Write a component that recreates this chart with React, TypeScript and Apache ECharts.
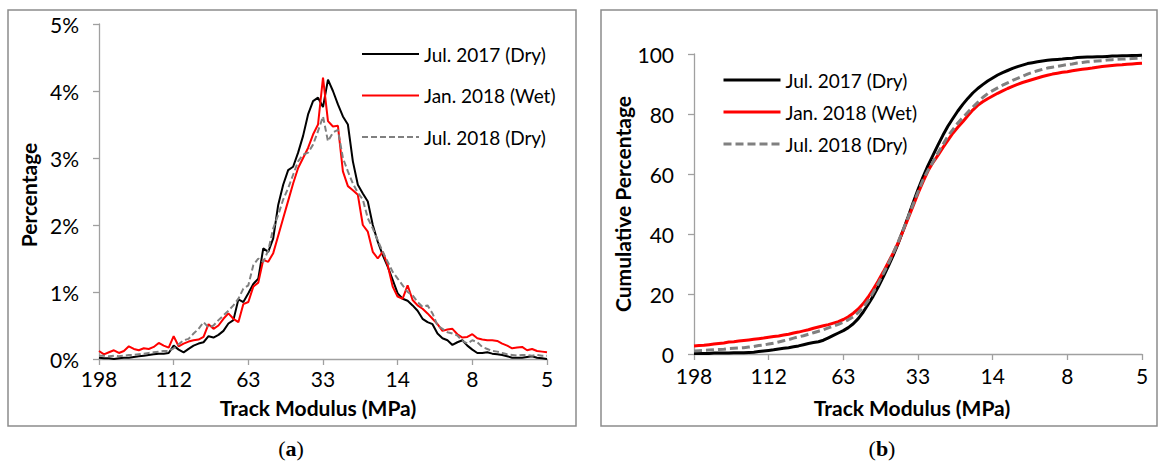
import React, { useEffect, useRef } from "react";
import * as echarts from "echarts";

// ---------- data ----------
const TICK_LABELS = ["198", "112", "63", "33", "14", "8", "5"];
const STEP = 15;
const CATEGORIES = Array.from({ length: (TICK_LABELS.length - 1) * STEP + 1 }, (_, i) =>
  i % STEP === 0 ? TICK_LABELS[i / STEP] : ""
);

const NAMES = ["Jul. 2017 (Dry)", "Jan. 2018 (Wet)", "Jul. 2018 (Dry)"];

// (a) percentage per track-modulus bin
const PCT_JUL2017 = [
  0.02, 0.01, 0.01, 0.0, 0.01, 0.02, 0.02, 0.03, 0.04, 0.05,
  0.06, 0.07, 0.08, 0.08, 0.09, 0.2, 0.14, 0.1, 0.15, 0.2,
  0.23, 0.25, 0.34, 0.32, 0.36, 0.42, 0.53, 0.58, 0.89, 0.85,
  0.98, 1.12, 1.2, 1.65, 1.6, 1.8, 2.3, 2.6, 2.82, 2.87,
  3.08, 3.33, 3.65, 3.85, 3.9, 3.76, 4.17, 4.0, 3.8, 3.62,
  3.5, 2.95, 2.6, 2.47, 2.35, 2.0, 1.75, 1.55, 1.38, 1.18,
  0.98, 0.9, 0.87, 0.8, 0.72, 0.6, 0.55, 0.52, 0.38, 0.31,
  0.28, 0.21, 0.25, 0.28, 0.2, 0.14, 0.09, 0.09, 0.1, 0.08,
  0.07, 0.06, 0.04, 0.02, 0.02, 0.02, 0.03, 0.04, 0.02, 0.01, 0.0,
];
const PCT_JAN2018 = [
  0.12, 0.07, 0.1, 0.13, 0.09, 0.12, 0.19, 0.15, 0.13, 0.16,
  0.15, 0.18, 0.24, 0.2, 0.17, 0.34, 0.19, 0.23, 0.26, 0.28,
  0.29, 0.33, 0.52, 0.45, 0.5, 0.6, 0.68, 0.6, 0.55, 0.82,
  0.85, 1.08, 1.14, 1.48, 1.45, 1.58, 1.84, 2.1, 2.36, 2.62,
  2.85, 3.0, 3.15, 3.35, 3.5, 4.2, 3.55, 3.47, 3.48, 2.8,
  2.58, 2.52, 2.45, 2.0, 1.9, 1.6, 1.5, 1.6, 1.4, 1.08,
  0.93, 0.9, 1.1, 0.88, 0.8, 0.75, 0.68, 0.6, 0.52, 0.42,
  0.44, 0.45, 0.37, 0.32, 0.33, 0.37, 0.31, 0.29, 0.28, 0.28,
  0.27, 0.23, 0.2, 0.16, 0.17, 0.18, 0.13, 0.15, 0.12, 0.11, 0.1,
];
const PCT_JUL2018 = [
  0.05, 0.05, 0.04, 0.05, 0.04, 0.05, 0.06, 0.06, 0.07, 0.08,
  0.09, 0.1, 0.11, 0.12, 0.12, 0.16, 0.22, 0.28, 0.3, 0.38,
  0.45, 0.55, 0.47, 0.5, 0.58, 0.65, 0.72, 0.8, 0.9, 1.05,
  1.1, 1.4, 1.5, 1.45, 1.62, 1.95, 2.15, 2.38, 2.55, 2.75,
  2.95, 3.05, 3.08, 3.2, 3.4, 3.62, 3.25, 3.38, 3.42, 3.0,
  2.8, 2.62, 2.48, 2.38, 2.1, 1.95, 1.77, 1.6, 1.45, 1.3,
  1.2, 1.1, 1.0, 0.95, 0.85, 0.78, 0.8, 0.68, 0.5, 0.45,
  0.4, 0.38, 0.35, 0.27, 0.23, 0.28, 0.25, 0.18, 0.15, 0.12,
  0.11, 0.09, 0.07, 0.06, 0.05, 0.06, 0.06, 0.05, 0.06, 0.05, 0.05,
];

// (b) cumulative percentage
const CUM_JUL2017 = [
  0.2, 0.2, 0.2, 0.2, 0.3, 0.3, 0.3, 0.3, 0.4, 0.4,
  0.4, 0.5, 0.6, 0.8, 1.0, 1.2, 1.4, 1.7, 1.9, 2.1,
  2.4, 2.7, 3.1, 3.5, 3.8, 4.1, 4.6, 5.4, 6.2, 7.0,
  7.8, 8.8, 10.1, 11.8, 14.0, 16.6, 19.3, 22.3, 25.6, 29.1,
  32.8, 36.8, 41.2, 45.7, 50.3, 54.8, 59.0, 62.8, 66.2, 69.6,
  72.9, 75.9, 78.5, 81.0, 83.2, 85.2, 87.0, 88.5, 89.8, 91.0,
  92.0, 93.0, 93.8, 94.5, 95.2, 95.8, 96.3, 96.8, 97.1, 97.4,
  97.7, 97.9, 98.1, 98.2, 98.3, 98.5, 98.6, 98.8, 98.9, 99.0,
  99.0, 99.1, 99.1, 99.2, 99.3, 99.3, 99.4, 99.4, 99.5, 99.5, 99.6,
];
const CUM_JAN2018 = [
  2.7, 2.8, 2.9, 3.1, 3.3, 3.5, 3.7, 4.0, 4.1, 4.3,
  4.5, 4.7, 4.9, 5.1, 5.3, 5.6, 5.8, 6.0, 6.3, 6.6,
  7.0, 7.3, 7.7, 8.1, 8.6, 9.0, 9.4, 9.8, 10.3, 10.8,
  11.5, 12.4, 13.6, 15.0, 16.8, 19.0, 21.6, 24.3, 27.3, 30.4,
  33.6, 37.0, 41.0, 45.1, 49.3, 53.5, 57.4, 61.0, 63.8, 66.2,
  68.8, 71.2, 73.6, 75.6, 77.4, 79.4, 81.3, 82.9, 84.1, 85.1,
  86.0, 86.9, 87.7, 88.5, 89.2, 89.9, 90.5, 91.0, 91.5, 92.0,
  92.5, 92.9, 93.3, 93.6, 93.9, 94.1, 94.4, 94.7, 94.9, 95.1,
  95.3, 95.6, 95.8, 96.0, 96.2, 96.3, 96.4, 96.6, 96.7, 96.8, 96.9,
];
const CUM_JUL2018 = [
  1.0, 1.1, 1.2, 1.3, 1.4, 1.5, 1.6, 1.8, 1.9, 2.0,
  2.1, 2.3, 2.5, 2.8, 3.0, 3.3, 3.6, 4.0, 4.4, 4.8,
  5.3, 5.7, 6.1, 6.6, 7.1, 7.6, 8.1, 8.7, 9.3, 9.9,
  10.6, 11.4, 12.4, 13.8, 15.5, 17.8, 20.5, 23.5, 26.7, 30.0,
  33.5, 37.3, 41.3, 45.5, 49.8, 54.0, 58.0, 61.2, 64.0, 67.0,
  69.8, 72.6, 74.8, 77.0, 78.8, 80.6, 82.3, 83.9, 85.5, 86.8,
  87.8, 88.7, 89.6, 90.4, 91.2, 91.9, 92.6, 93.3, 93.9, 94.4,
  94.9, 95.3, 95.6, 95.9, 96.2, 96.5, 96.7, 97.0, 97.2, 97.4,
  97.5, 97.7, 97.8, 98.0, 98.1, 98.2, 98.3, 98.4, 98.5, 98.6, 98.7,
];

// ---------- styles ----------
const FONT = "Lato";
const AXIS_GRAY = "#a0a0a0";
const COLORS = ["#000000", "#ff0000", "#808080"];

function xAxisFor(gridIndex: number, margin: number) {
  return {
    type: "category",
    gridIndex,
    data: CATEGORIES,
    boundaryGap: false,
    axisLine: { show: true, lineStyle: { color: AXIS_GRAY, width: 1.3 } },
    axisTick: { show: true, interval: STEP - 1, length: 6, lineStyle: { color: AXIS_GRAY, width: 1.3 } },
    axisLabel: { interval: STEP - 1, margin, fontSize: 21, fontFamily: FONT, color: "#000" },
    splitLine: { show: false },
  };
}

function yAxisFor(gridIndex: number, max: number, interval: number, fmt: string) {
  return {
    type: "value",
    gridIndex,
    min: 0,
    max,
    interval,
    axisLine: { show: true, lineStyle: { color: AXIS_GRAY, width: 1.3 } },
    axisTick: { show: true, length: 6, lineStyle: { color: AXIS_GRAY, width: 1.3 } },
    axisLabel: { formatter: fmt, margin: 20, fontSize: 21, fontFamily: FONT, color: "#000" },
    splitLine: { show: false },
  };
}

function lineSeries(name: string, idx: number, data: number[], width: number, dash: number[] | null, color: string) {
  return {
    name,
    type: "line",
    xAxisIndex: idx,
    yAxisIndex: idx,
    data,
    symbol: "none",
    smooth: false,
    silent: true,
    lineStyle: { color, width, type: dash ? dash : "solid" },
    itemStyle: { color },
  };
}

function titleText(text: string, x: number, y: number, rotate = false) {
  return {
    type: "text",
    x,
    y,
    rotation: rotate ? Math.PI / 2 : 0,
    silent: true,
    style: {
      text,
      fontSize: 21,
      fontWeight: "bold",
      fontFamily: FONT,
      fill: "#000",
      align: "center",
      verticalAlign: "middle",
      textAlign: "center",
      textVerticalAlign: "middle",
    },
  };
}

function caption(letter: string, x: number, y: number) {
  return {
    type: "text",
    x,
    y,
    silent: true,
    style: {
      text: `{p|(}{b|${letter}}{p|)}`,
      align: "center",
      verticalAlign: "middle",
      textAlign: "center",
      textVerticalAlign: "middle",
      rich: {
        p: { fontFamily: "Liberation Serif", fontSize: 22, fill: "#000", fontWeight: "normal" },
        b: { fontFamily: "Liberation Serif", fontSize: 22, fill: "#000", fontWeight: "bold" },
      },
    },
  };
}

function legendFor(left: number, top: number, gap: number, width: number, dash: number[]) {
  return {
    orient: "vertical",
    left,
    top,
    itemWidth: 57,
    itemHeight: 3,
    itemGap: gap,
    selectedMode: false,
    padding: 0,
    itemStyle: { opacity: 0, borderWidth: 0 },
    textStyle: { fontSize: 19, fontFamily: FONT, color: "#000", lineHeight: 20 },
    data: [
      { name: NAMES[0], itemStyle: { opacity: 0 }, lineStyle: { width } },
      { name: NAMES[1], itemStyle: { opacity: 0 }, lineStyle: { width } },
      { name: NAMES[2], itemStyle: { opacity: 0 }, lineStyle: { width, type: dash } },
    ],
  };
}

export default function App() {
  const ref = useRef<HTMLDivElement>(null);

  useEffect(() => {
    document.body.style.margin = "0";
    if (!ref.current) return;
    const chart = echarts.init(ref.current, null, { renderer: "svg" });

    const option: any = {
      animation: false,
      backgroundColor: "#ffffff",
      grid: [
        { left: 99, top: 24, width: 448, height: 335, containLabel: false, outerBoundsMode: "none" },
        { left: 694, top: 54, width: 448, height: 300, containLabel: false, outerBoundsMode: "none" },
      ],
      xAxis: [xAxisFor(0, 9), xAxisFor(1, 11)],
      yAxis: [yAxisFor(0, 5, 1, "{value}%"), yAxisFor(1, 100, 20, "{value}")],
      legend: [legendFor(361, 44, 21.5, 2, [6, 3]), legendFor(722, 70, 12, 3, [8, 4])],
      series: [
        lineSeries(NAMES[0], 0, PCT_JUL2017, 2, null, COLORS[0]),
        lineSeries(NAMES[1], 0, PCT_JAN2018, 2, null, COLORS[1]),
        lineSeries(NAMES[2], 0, PCT_JUL2018, 2, [6, 3], COLORS[2]),
        lineSeries(NAMES[0], 1, CUM_JUL2017, 3, null, COLORS[0]),
        lineSeries(NAMES[1], 1, CUM_JAN2018, 3, null, COLORS[1]),
        lineSeries(NAMES[2], 1, CUM_JUL2018, 3, [8, 4], COLORS[2]),
      ],
      graphic: [
        {
          type: "rect",
          silent: true,
          z: -10,
          shape: { x: 8, y: 10, width: 568, height: 416 },
          style: { fill: "none", stroke: "#8c8c8c", lineWidth: 1.5 },
        },
        {
          type: "rect",
          silent: true,
          z: -10,
          shape: { x: 601, y: 10, width: 556, height: 416 },
          style: { fill: "none", stroke: "#8c8c8c", lineWidth: 1.5 },
        },
        titleText("Percentage", 28, 195, true),
        titleText("Cumulative Percentage", 622, 204, true),
        titleText("Track Modulus (MPa)", 318, 407),
        titleText("Track Modulus (MPa)", 912, 407),
        caption("a", 291, 448),
        caption("b", 882, 448),
      ],
    };

    chart.setOption(option);
    return () => chart.dispose();
  }, []);

  return <div ref={ref} style={{ width: 1159, height: 463 }} />;
}
